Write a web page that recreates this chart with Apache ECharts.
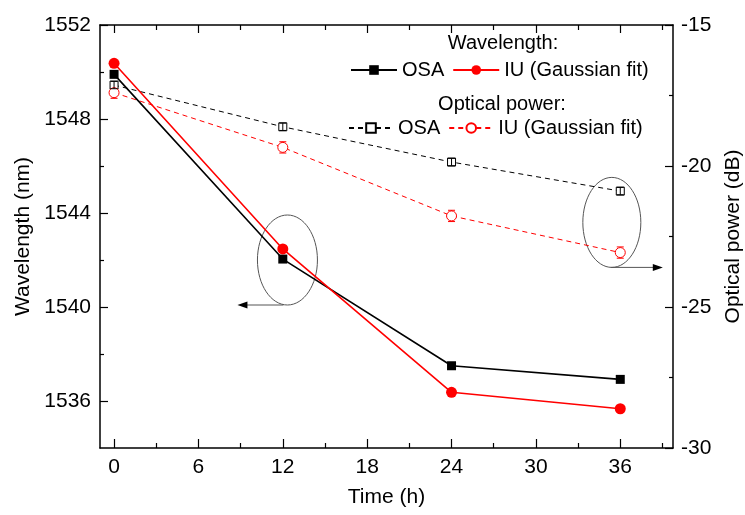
<!DOCTYPE html>
<html>
<head>
<meta charset="utf-8">
<script src="https://cdn.jsdelivr.net/npm/echarts@6/dist/echarts.min.js"></script>
<style>html,body{margin:0;padding:0;background:#fff;}#c{width:745px;height:515px;}</style>
</head>
<body>
<div id="c"></div>
<script>
const times = [0, 12, 24, 36];
const wlOSA = [1549.90, 1542.04, 1537.50, 1536.92];
const wlIU = [1550.37, 1542.47, 1536.37, 1535.67];
const pwOSA = [-17.13, -18.61, -19.86, -20.89];
const pwOSAerr = [0.13, 0.13, 0.13, 0.13];
const pwIU = [-17.40, -19.34, -21.77, -23.07];
const pwIUerr = [0.2, 0.2, 0.2, 0.2];
const xMajor = [0, 6, 12, 18, 24, 30, 36];
const xMinor = [3, 9, 15, 21, 27, 33, 39];
const yLeftMajor = [1536, 1540, 1544, 1548, 1552];
const yLeftMinor = [1538, 1542, 1546, 1550];

const FONT = 'Liberation Sans, Arial, sans-serif';
const chart = echarts.init(document.getElementById('c'), null, {renderer: 'canvas'});

const pts = (ys) => times.map((t, i) => [t, ys[i]]);
const errPts = (ys, es) => times.map((t, i) => [t, ys[i] - es[i], ys[i] + es[i]]);

function errRender(params, api) {
  const x = api.value(0);
  const lo = api.coord([x, api.value(1)]);
  const hi = api.coord([x, api.value(2)]);
  const c = 3.5;
  const color = params.seriesName === 'errOSA' ? '#000' : '#f00';
  const st = {stroke: color, lineWidth: 1, fill: null};
  return {type: 'group', children: [
    {type: 'line', shape: {x1: lo[0], y1: lo[1], x2: hi[0], y2: hi[1]}, style: st},
    {type: 'line', shape: {x1: lo[0] - c, y1: lo[1], x2: lo[0] + c, y2: lo[1]}, style: st},
    {type: 'line', shape: {x1: hi[0] - c, y1: hi[1], x2: hi[0] + c, y2: hi[1]}, style: st}
  ]};
}

const xBase = {type: 'value', min: -1, max: 39.75, gridIndex: 0, splitLine: {show: false}};
const axisLineStyle = {color: '#000', width: 1.5};
const nameMap = {wOSA: 'OSA', wIU: 'IU (Gaussian fit)', pOSA: 'OSA', pIU: 'IU (Gaussian fit)'};
const plain = v => String(v);

const option = {
  backgroundColor: '#fff',
  animation: false,
  textStyle: {fontFamily: FONT},
  grid: {left: 100, right: 72, top: 25, bottom: 67, containLabel: false, outerBoundsMode: 'none'},
  xAxis: [
    Object.assign({}, xBase, {position: 'bottom',
      axisLine: {show: true, onZero: false, lineStyle: axisLineStyle},
      axisTick: {show: true, inside: true, length: 9, customValues: xMajor, lineStyle: {color: '#000', width: 1.2}},
      axisLabel: {show: true, customValues: xMajor, formatter: plain, fontSize: 21, color: '#000', margin: 9, fontFamily: FONT},
      name: 'Time (h)', nameLocation: 'middle', nameGap: 39,
      nameTextStyle: {fontSize: 21, color: '#000', fontFamily: FONT}}),
    Object.assign({}, xBase, {position: 'bottom',
      axisLine: {show: false, onZero: false},
      axisTick: {show: true, inside: true, length: 5, customValues: xMinor, lineStyle: {color: '#000', width: 1.2}},
      axisLabel: {show: false}}),
    Object.assign({}, xBase, {position: 'top',
      axisLine: {show: true, onZero: false, lineStyle: axisLineStyle},
      axisTick: {show: true, inside: true, length: 8, customValues: xMajor, lineStyle: {color: '#000', width: 1.2}},
      axisLabel: {show: false}}),
    Object.assign({}, xBase, {position: 'top',
      axisLine: {show: false, onZero: false},
      axisTick: {show: true, inside: true, length: 5, customValues: xMinor, lineStyle: {color: '#000', width: 1.2}},
      axisLabel: {show: false}})
  ],
  yAxis: [
    {type: 'value', position: 'left', min: 1534, max: 1552, splitLine: {show: false},
      axisLine: {show: true, onZero: false, lineStyle: axisLineStyle},
      axisTick: {show: true, inside: true, length: 8, customValues: yLeftMajor, lineStyle: {color: '#000', width: 1.2}},
      axisLabel: {show: true, customValues: yLeftMajor, formatter: plain, fontSize: 21, color: '#000', margin: 9, fontFamily: FONT},
      name: 'Wavelength (nm)', nameLocation: 'middle', nameGap: 58,
      nameTextStyle: {fontSize: 21, color: '#000', fontFamily: FONT}},
    {type: 'value', position: 'left', min: 1534, max: 1552, splitLine: {show: false},
      axisLine: {show: false, onZero: false},
      axisTick: {show: true, inside: true, length: 4, customValues: yLeftMinor, lineStyle: {color: '#000', width: 1.2}},
      axisLabel: {show: false}},
    {type: 'value', position: 'right', min: -30, max: -15, interval: 5, splitLine: {show: false},
      axisLine: {show: true, onZero: false, lineStyle: axisLineStyle},
      axisTick: {show: true, inside: true, length: 8, lineStyle: {color: '#000', width: 1.2}},
      minorTick: {show: true, splitNumber: 2, length: 4, lineStyle: {color: '#000', width: 1.2}},
      minorSplitLine: {show: false},
      axisLabel: {show: true, formatter: plain, fontSize: 21, color: '#000', margin: 8, fontFamily: FONT},
      name: 'Optical power (dB)', nameLocation: 'middle', nameGap: 50,
      nameTextStyle: {fontSize: 21, color: '#000', fontFamily: FONT}}
  ],
  legend: [
    {data: ['wOSA', 'wIU'], left: 350, top: 60, orient: 'horizontal', padding: 0,
      itemWidth: 46, itemHeight: 12, itemGap: 8, formatter: n => nameMap[n],
      textStyle: {fontSize: 20, color: '#000', fontFamily: FONT}, selectedMode: false},
    {data: ['pOSA', 'pIU'], left: 348, top: 118, orient: 'horizontal', padding: 0,
      itemWidth: 44, itemHeight: 12, itemGap: 8, formatter: n => nameMap[n],
      textStyle: {fontSize: 20, color: '#000', fontFamily: FONT}, selectedMode: false}
  ],
  series: [
    {name: 'pOSA', type: 'line', yAxisIndex: 2, data: pts(pwOSA), symbol: 'rect', symbolSize: 8,
      lineStyle: {color: '#000', width: 1, type: [5, 4]},
      itemStyle: {color: '#fff', borderColor: '#000', borderWidth: 1}, z: 3},
    {name: 'pIU', type: 'line', yAxisIndex: 2, data: pts(pwIU), symbol: 'circle', symbolSize: 10,
      lineStyle: {color: '#f00', width: 1, type: [5, 4]},
      itemStyle: {color: '#fff', borderColor: '#f00', borderWidth: 1}, z: 3},
    {name: 'errOSA', type: 'custom', yAxisIndex: 2, data: errPts(pwOSA, pwOSAerr), renderItem: errRender, z: 4, silent: true},
    {name: 'errIU', type: 'custom', yAxisIndex: 2, data: errPts(pwIU, pwIUerr), renderItem: errRender, z: 2, silent: true},
    {name: 'wOSA', type: 'line', yAxisIndex: 0, data: pts(wlOSA), symbol: 'rect', symbolSize: 9,
      lineStyle: {color: '#000', width: 1.6}, itemStyle: {color: '#000'}, z: 5},
    {name: 'wIU', type: 'line', yAxisIndex: 0, data: pts(wlIU), symbol: 'circle', symbolSize: 11,
      lineStyle: {color: '#f00', width: 1.6}, itemStyle: {color: '#f00'}, z: 6}
  ]
};
chart.setOption(option);

// Annotations (ellipses + arrows), anchored to data positions; legend section titles
const c1 = chart.convertToPixel({xAxisIndex: 0, yAxisIndex: 0}, [12.33, 1542.0]);
const c2 = chart.convertToPixel({xAxisIndex: 0, yAxisIndex: 2}, [35.4, -22.0]);
const ann = '#555';
const ry = 45, rx1 = 30, rx2 = 29;
const a1y = c1[1] + ry, a2y = c2[1] + ry;
chart.setOption({
  graphic: [
    {type: 'ellipse', shape: {cx: c1[0], cy: c1[1], rx: rx1, ry: ry}, style: {fill: null, stroke: ann, lineWidth: 1}, z: 1},
    {type: 'ellipse', shape: {cx: c2[0], cy: c2[1], rx: rx2, ry: ry}, style: {fill: null, stroke: ann, lineWidth: 1}, z: 1},
    {type: 'line', shape: {x1: c1[0] - 4, y1: a1y, x2: c1[0] - 42, y2: a1y}, style: {stroke: ann, lineWidth: 1}, z: 1},
    {type: 'polygon', shape: {points: [[c1[0] - 50, a1y], [c1[0] - 40, a1y - 3.5], [c1[0] - 40, a1y + 3.5]]}, style: {fill: '#000'}, z: 1},
    {type: 'line', shape: {x1: c2[0] - 1, y1: a2y, x2: c2[0] + 43, y2: a2y}, style: {stroke: ann, lineWidth: 1}, z: 1},
    {type: 'polygon', shape: {points: [[c2[0] + 51, a2y], [c2[0] + 41, a2y - 3.5], [c2[0] + 41, a2y + 3.5]]}, style: {fill: '#000'}, z: 1},
    {type: 'text', style: {text: 'Wavelength:', x: 503, y: 43, textAlign: 'center', textVerticalAlign: 'middle', font: '20px ' + FONT, fill: '#000'}},
    {type: 'text', style: {text: 'Optical power:', x: 502, y: 104, textAlign: 'center', textVerticalAlign: 'middle', font: '20px ' + FONT, fill: '#000'}}
  ]
});
</script>
</body>
</html>
